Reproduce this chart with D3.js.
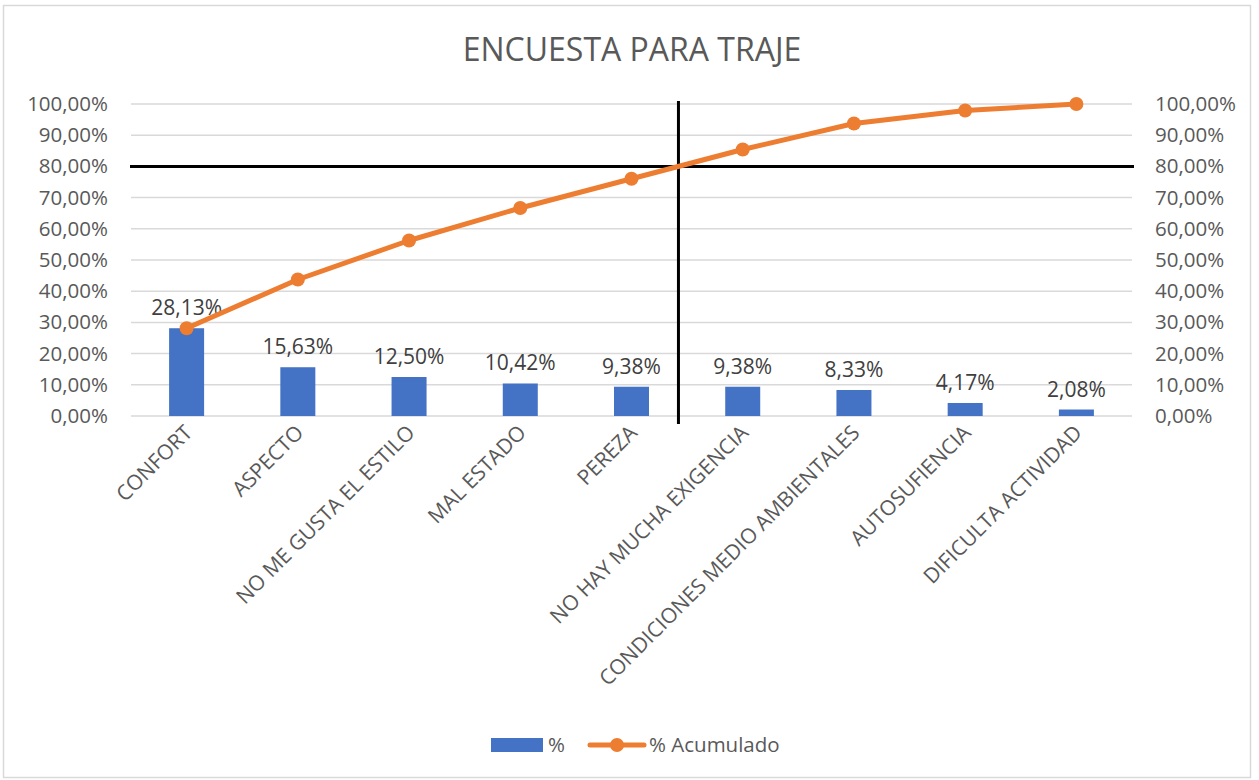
<!DOCTYPE html>
<html>
<head>
<meta charset="utf-8">
<script src="https://cdn.jsdelivr.net/npm/d3@7"></script>
<style>
  body { margin: 0; background: #fff; }
  text { font-family: "Open Sans", "Noto Sans", sans-serif; }
</style>
</head>
<body>
<div id="chart"></div>
<script>
// data
const categories = ["CONFORT", "ASPECTO", "NO ME GUSTA EL ESTILO", "MAL ESTADO", "PEREZA",
  "NO HAY MUCHA EXIGENCIA", "CONDICIONES MEDIO AMBIENTALES", "AUTOSUFIENCIA", "DIFICULTA ACTIVIDAD"];
const pct = [28.13, 15.63, 12.50, 10.42, 9.38, 9.38, 8.33, 4.17, 2.08];
const pctAcum = [28.13, 43.75, 56.25, 66.67, 76.04, 85.42, 93.75, 97.92, 100];
const yTicks = [0, 10, 20, 30, 40, 50, 60, 70, 80, 90, 100];
const cutoff = 80;

// globals
let width = 1259, height = 780;
let plotLeft = 131, plotRight = 1132, plotTop = 104, plotBottom = 416;

let svg = d3.select('#chart').append('svg')
    .attr('width', width)
    .attr('height', height);

// chart border
svg.append('rect')
    .attr('x', 3.5).attr('y', 5.5)
    .attr('width', 1247).attr('height', 772)
    .attr('fill', '#fff')
    .attr('stroke', '#d9d9d9')
    .attr('stroke-width', 1.5);

let x = d3.scaleBand().domain(categories).range([plotLeft, plotRight]);
let y = d3.scaleLinear().domain([0, 100]).range([plotBottom, plotTop]);
let fmt = v => v.toFixed(2).replace('.', ',') + '%';
let mid = c => x(c) + x.bandwidth() / 2;

// title
svg.append('text')
    .attr('x', 632).attr('y', 61)
    .attr('text-anchor', 'middle')
    .style('font-size', '32px')
    .style('fill', '#595959')
    .text('ENCUESTA PARA TRAJE');

// gridlines
svg.selectAll('line.grid').data(yTicks).enter()
    .append('line').attr('class', 'grid')
    .attr('x1', plotLeft).attr('x2', plotRight)
    .attr('y1', d => y(d)).attr('y2', d => y(d))
    .style('stroke', '#d9d9d9')
    .style('stroke-width', 1.5);

// left axis labels
svg.selectAll('text.yl').data(yTicks).enter()
    .append('text').attr('class', 'yl')
    .attr('x', 108).attr('y', d => y(d) + 7)
    .attr('text-anchor', 'end')
    .style('font-size', '20.5px')
    .style('fill', '#595959')
    .text(d => fmt(d));

// right axis labels
svg.selectAll('text.yr').data(yTicks).enter()
    .append('text').attr('class', 'yr')
    .attr('x', 1155).attr('y', d => y(d) + 7)
    .attr('text-anchor', 'start')
    .style('font-size', '20.5px')
    .style('fill', '#595959')
    .text(d => fmt(d));

// bars
let bw = 35;
svg.selectAll('rect.bar').data(pct).enter()
    .append('rect').attr('class', 'bar')
    .attr('x', (d, i) => mid(categories[i]) - bw / 2)
    .attr('y', d => y(d))
    .attr('width', bw)
    .attr('height', d => y(0) - y(d))
    .attr('fill', '#4472c4');

// bar labels
svg.selectAll('text.lab').data(pct).enter()
    .append('text').attr('class', 'lab')
    .attr('x', (d, i) => mid(categories[i]))
    .attr('y', d => y(d) - 13)
    .attr('text-anchor', 'middle')
    .style('font-size', '21px')
    .style('fill', '#404040')
    .text(d => fmt(d));

// x labels
svg.selectAll('text.xl').data(categories).enter()
    .append('text').attr('class', 'xl')
    .attr('transform', d => 'translate(' + (mid(d) + 7) + ',' + 434 + ') rotate(-45)')
    .attr('text-anchor', 'end')
    .style('font-size', '21px')
    .style('fill', '#595959')
    .text(d => d);

// 80% crossing point of the cumulative line
let cx = plotLeft;
for (let i = 1; i < pctAcum.length; i++) {
    if (pctAcum[i - 1] < cutoff && pctAcum[i] >= cutoff) {
        let x0 = mid(categories[i - 1]);
        let x1 = mid(categories[i]);
        cx = x0 + (x1 - x0) * (cutoff - pctAcum[i - 1]) / (pctAcum[i] - pctAcum[i - 1]);
    }
}

// black reference lines
svg.append('line')
    .attr('x1', plotLeft - 1).attr('x2', plotRight + 2)
    .attr('y1', y(cutoff)).attr('y2', y(cutoff))
    .style('stroke', '#000').style('stroke-width', 3);
svg.append('line')
    .attr('x1', cx).attr('x2', cx)
    .attr('y1', 101).attr('y2', 424)
    .style('stroke', '#000').style('stroke-width', 3);

// cumulative line
let line = d3.line()
    .x((d, i) => mid(categories[i]))
    .y(d => y(d));
svg.append('path')
    .datum(pctAcum)
    .attr('d', line)
    .attr('fill', 'none')
    .attr('stroke', '#ed7d31')
    .attr('stroke-width', 5)
    .attr('stroke-linejoin', 'round');
svg.selectAll('circle.pt').data(pctAcum).enter()
    .append('circle').attr('class', 'pt')
    .attr('cx', (d, i) => mid(categories[i]))
    .attr('cy', d => y(d))
    .attr('r', 7)
    .attr('fill', '#ed7d31');

// legend
let lg = svg.append('g');
lg.append('rect')
    .attr('x', 491).attr('y', 738)
    .attr('width', 52).attr('height', 14)
    .attr('fill', '#4472c4');
lg.append('text')
    .attr('x', 548).attr('y', 752)
    .style('font-size', '20.5px').style('fill', '#595959')
    .text('%');
lg.append('line')
    .attr('x1', 590).attr('x2', 644)
    .attr('y1', 745).attr('y2', 745)
    .attr('stroke', '#ed7d31').attr('stroke-width', 5)
    .attr('stroke-linecap', 'round');
lg.append('circle')
    .attr('cx', 617).attr('cy', 745).attr('r', 7)
    .attr('fill', '#ed7d31');
lg.append('text')
    .attr('x', 649).attr('y', 752)
    .style('font-size', '20.5px').style('fill', '#595959')
    .text('% Acumulado');
</script>
</body>
</html>
